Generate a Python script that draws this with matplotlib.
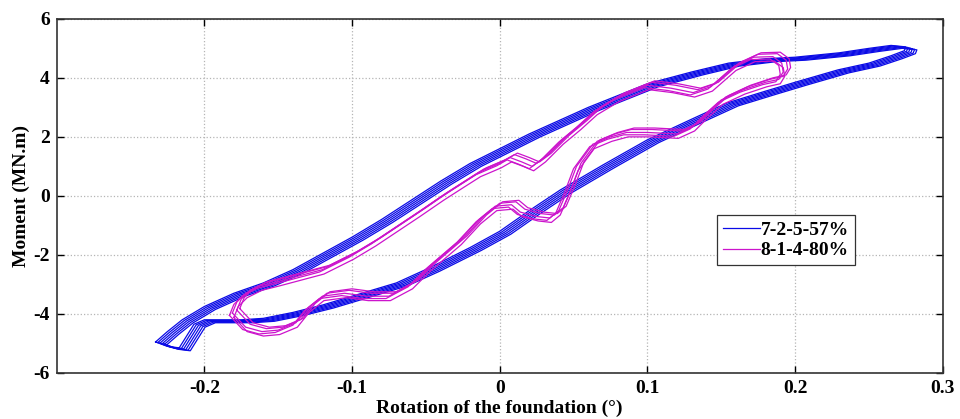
import matplotlib
matplotlib.use("Agg")
import matplotlib.pyplot as plt
import numpy as np

# ---- data ----
# Series 1: 7-2-5-57% (one representative cycle, closed loop)
blue_x = [-0.233, -0.225, -0.215, -0.20, -0.18, -0.16, -0.14, -0.12, -0.10, -0.08, -0.06,
          -0.04, -0.02, 0.0, 0.02, 0.04, 0.06, 0.08, 0.10, 0.13, 0.155, 0.18, 0.20, 0.23,
          0.25, 0.265, 0.275,
          0.274, 0.265, 0.25, 0.229, 0.20, 0.18, 0.154, 0.13, 0.10, 0.07, 0.041, 0.02, 0.0,
          -0.02, -0.048, -0.07, -0.10, -0.12, -0.14, -0.16, -0.175, -0.19, -0.20, -0.207,
          -0.212, -0.217, -0.225, -0.233]
blue_y = [-4.95, -4.6, -4.2, -3.75, -3.3, -2.95, -2.5, -1.95, -1.4, -0.8, -0.15,
          0.5, 1.1, 1.6, 2.1, 2.55, 3.0, 3.4, 3.8, 4.2, 4.5, 4.65, 4.7, 4.85,
          5.0, 5.1, 5.05,
          4.92, 4.75, 4.5, 4.27, 3.85, 3.55, 3.15, 2.6, 1.9, 1.05, 0.2, -0.5, -1.2,
          -1.75, -2.45, -2.95, -3.4, -3.7, -3.95, -4.15, -4.2, -4.2, -4.2, -4.35,
          -4.75, -5.15, -5.1, -4.95]
blue_cycle_dx = [0.0, 0.0015, 0.003, 0.0045, 0.006, 0.0075]
blue_cycle_dy = [0.0, -0.02, -0.04, -0.06, -0.08, -0.1]

# Series 2: 8-1-4-80% (one representative cycle, closed loop)
mag_x = [-0.181, -0.178, -0.172, -0.162, -0.15, -0.135, -0.12, -0.10, -0.085, -0.07, -0.055,
         -0.039, -0.025, -0.014, 0.0, 0.007, 0.015, 0.022, 0.03, 0.042, 0.054, 0.065, 0.08,
         0.10, 0.116, 0.131, 0.143, 0.159, 0.172, 0.185, 0.191, 0.192, 0.189, 0.18,
         0.165, 0.15, 0.14, 0.131, 0.12, 0.10, 0.086, 0.075, 0.063, 0.052, 0.046, 0.04,
         0.034, 0.025, 0.014, 0.008, -0.003, -0.014, -0.027, -0.048, -0.06, -0.075,
         -0.09, -0.105, -0.12, -0.13, -0.138, -0.15, -0.161, -0.172, -0.181]
mag_y = [-3.97, -3.6, -3.3, -3.05, -2.9, -2.7, -2.5, -2.0, -1.55, -1.05, -0.55,
         0.0, 0.45, 0.8, 1.1, 1.3, 1.15, 1.0, 1.3, 1.9, 2.4, 2.9, 3.35,
         3.75, 3.65, 3.5, 3.7, 4.4, 4.7, 4.72, 4.5, 4.2, 3.95, 3.85,
         3.6, 3.25, 2.8, 2.35, 2.1, 2.15, 2.15, 2.0, 1.75, 1.0, 0.2, -0.5,
         -0.75, -0.7, -0.55, -0.3, -0.35, -0.8, -1.5, -2.4, -3.0, -3.4,
         -3.4, -3.3, -3.4, -3.8, -4.3, -4.55, -4.6, -4.45, -3.97]
mag_cycle_dx = [0.0, 0.003, -0.002, 0.005, 0.001]
mag_cycle_dy = [0.0, 0.1, -0.08, 0.15, -0.15]

series_labels = ["7-2-5-57%", "8-1-4-80%"]
x_ticks = [-0.2, -0.1, 0, 0.1, 0.2, 0.3]
x_ticklabels = ["-0.2", "-0.1", "0", "0.1", "0.2", "0.3"]
y_ticks = [-6, -4, -2, 0, 2, 4, 6]
y_ticklabels = ["-6", "-4", "-2", "0", "2", "4", "6"]

# ---- plotting ----
plt.rcParams['font.family'] = ['Liberation Serif', 'DejaVu Serif']
plt.rcParams['font.weight'] = 'bold'

fig = plt.figure(figsize=(9.6, 4.19), dpi=100)
ax = fig.add_axes([0.059, 0.110, 0.923, 0.845])

blue_c = '#0a0ae6'
mag_c = '#cc14cc'

bx = np.array(blue_x); by = np.array(blue_y)
for i, (dx, dy) in enumerate(zip(blue_cycle_dx, blue_cycle_dy)):
    ax.plot(bx + dx, by + dy, color=blue_c, lw=0.9,
            label=series_labels[0] if i == 0 else None, zorder=3)

mx = np.array(mag_x); my = np.array(mag_y)
for i, (dx, dy) in enumerate(zip(mag_cycle_dx, mag_cycle_dy)):
    ax.plot(mx + dx, my + dy, color=mag_c, lw=0.9,
            label=series_labels[1] if i == 0 else None, zorder=4)

ax.set_xlim(-0.3, 0.3)
ax.set_ylim(-6, 6)
ax.set_xticks(x_ticks)
ax.set_xticklabels(x_ticklabels)
ax.set_yticks(y_ticks)
ax.set_yticklabels(y_ticklabels)
ax.tick_params(direction='in', top=True, right=True, length=5, width=1,
               labelsize=14, pad=5)
for lab in ax.get_xticklabels() + ax.get_yticklabels():
    lab.set_fontweight('bold')
ax.grid(True, linestyle=':', color='#b5b5b5', lw=0.9)
for s in ax.spines.values():
    s.set_linewidth(1.2)
    s.set_color('#333333')

ax.set_xlabel('Rotation of the foundation (°)', fontsize=14, fontweight='bold', labelpad=2)
ax.set_ylabel('Moment (MN.m)', fontsize=14, fontweight='bold', labelpad=2)

leg = ax.legend(loc='upper left', bbox_to_anchor=(0.745, 0.445), fontsize=14,
                frameon=True, fancybox=False, edgecolor='#333333', framealpha=1,
                handlelength=1.9, handletextpad=0.05, borderpad=0.3, labelspacing=0.15,
                borderaxespad=0)
leg.get_frame().set_linewidth(0.9)
for t in leg.get_texts():
    t.set_fontweight('bold')

fig.savefig('out.png', dpi=100)
